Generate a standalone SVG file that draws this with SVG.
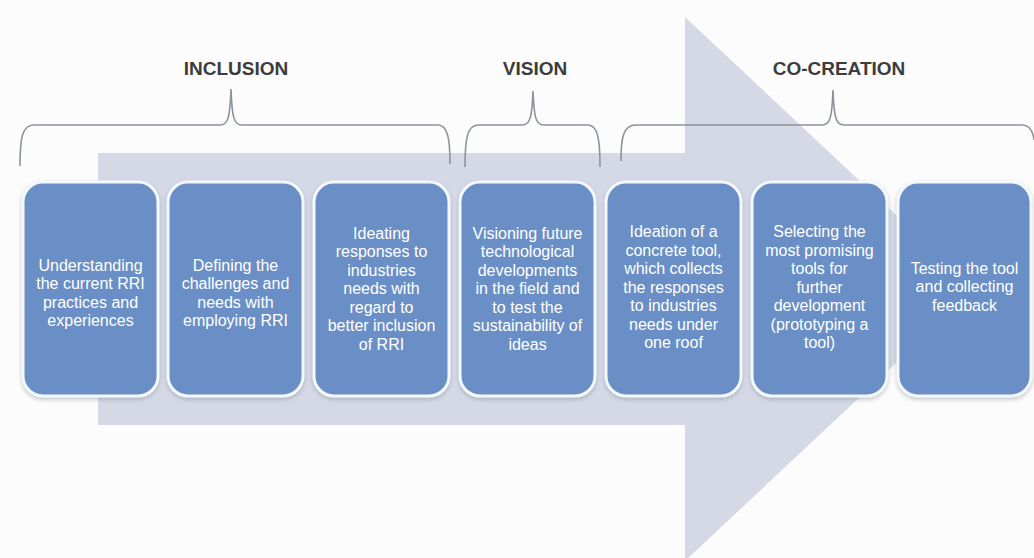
<svg xmlns="http://www.w3.org/2000/svg" width="1034" height="558" viewBox="0 0 1034 558">
<style>
.box{fill:#6a8fc6;stroke:#f4f8fd;stroke-width:3;filter:url(#sh)}
.t{font-family:"Liberation Sans",Arial,sans-serif;font-size:16px;fill:#ffffff;text-anchor:middle}
.h{font-family:"Liberation Sans",Arial,sans-serif;font-size:19px;font-weight:bold;fill:#3c3c3c;text-anchor:middle}
.br{fill:none;stroke:#8c939c;stroke-width:1.6}
</style>
<defs>
<filter id="sh" x="-10%" y="-10%" width="120%" height="120%">
<feDropShadow dx="0" dy="2" stdDeviation="2" flood-color="#7a8294" flood-opacity="0.45"/>
</filter>
</defs>
<rect x="0" y="0" width="1034" height="558" fill="#fcfcfc"/>
<polygon id="bigarrow" points="98,153 685,153 685,17 975,289 685,561 685,425 98,425" fill="#d4d9e5"/>
<g id="connectors">
<path class="br" d="M20,166 C20,138 22,125 34,125 L220,125 C228,125 230,118 231,89 C232,118 234,125 242,125 L438,125 C448,125 450,140 450,164"/>
<path class="br" d="M465,167 C465,140 467,125 478,125 L522,125 C530,125 532,118 533,91 C534,118 536,125 544,125 L588,125 C598,125 600,140 600,167"/>
<path class="br" d="M621,161 C621,138 623,125 636,125 L822,125 C830,125 832,118 833,90 C834,118 836,125 844,125 L1022,125 C1030,125 1033,132 1034,140"/>
</g>
<g id="h-inclusion"><text class="h" x="236" y="75">INCLUSION</text></g>
<g id="h-vision"><text class="h" x="535" y="75">VISION</text></g>
<g id="h-cocreation"><text class="h" x="839" y="75">CO-CREATION</text></g>
<g id="n1"><rect class="box" x="23" y="182" width="135" height="214" rx="20"/>
<text class="t"><tspan x="90.5" y="270.5">Understanding</tspan><tspan x="90.5" y="289">the current RRI</tspan><tspan x="90.5" y="307.5">practices  and</tspan><tspan x="90.5" y="326">experiences</tspan></text></g>
<g id="n2"><rect class="box" x="168" y="182" width="135" height="214" rx="20"/>
<text class="t"><tspan x="235.5" y="270.5">Defining the</tspan><tspan x="235.5" y="289">challenges and</tspan><tspan x="235.5" y="307.5">needs with</tspan><tspan x="235.5" y="326">employing RRI</tspan></text></g>
<g id="n3"><rect class="box" x="314" y="182" width="135" height="214" rx="20"/>
<text class="t"><tspan x="381.5" y="238.5">Ideating</tspan><tspan x="381.5" y="257">responses to</tspan><tspan x="381.5" y="275.5">industries</tspan><tspan x="381.5" y="294">needs with</tspan><tspan x="381.5" y="312.5">regard to</tspan><tspan x="381.5" y="331">better inclusion</tspan><tspan x="381.5" y="349.5">of RRI</tspan></text></g>
<g id="n4"><rect class="box" x="460" y="182" width="135" height="214" rx="20"/>
<text class="t"><tspan x="527.5" y="238.5">Visioning future</tspan><tspan x="527.5" y="257">technological</tspan><tspan x="527.5" y="275.5">developments</tspan><tspan x="527.5" y="294">in the field and</tspan><tspan x="527.5" y="312.5">to test the</tspan><tspan x="527.5" y="331">sustainability of</tspan><tspan x="527.5" y="349.5">ideas</tspan></text></g>
<g id="n5"><rect class="box" x="606" y="182" width="135" height="214" rx="20"/>
<text class="t"><tspan x="673.5" y="237">Ideation of a</tspan><tspan x="673.5" y="255.5">concrete tool,</tspan><tspan x="673.5" y="274">which collects</tspan><tspan x="673.5" y="292.5">the responses</tspan><tspan x="673.5" y="311">to industries</tspan><tspan x="673.5" y="329.5">needs  under</tspan><tspan x="673.5" y="348">one roof</tspan></text></g>
<g id="n6"><rect class="box" x="752" y="182" width="135" height="214" rx="20"/>
<text class="t"><tspan x="819.5" y="237">Selecting the</tspan><tspan x="819.5" y="255.5">most promising</tspan><tspan x="819.5" y="274">tools for</tspan><tspan x="819.5" y="292.5">further</tspan><tspan x="819.5" y="311">development</tspan><tspan x="819.5" y="329.5">(prototyping a</tspan><tspan x="819.5" y="348">tool)</tspan></text></g>
<g id="n7"><rect class="box" x="898" y="182" width="133" height="214" rx="20"/>
<text class="t"><tspan x="964.5" y="273.5">Testing the tool</tspan><tspan x="964.5" y="292">and collecting</tspan><tspan x="964.5" y="310.5">feedback</tspan></text></g>
</svg>
